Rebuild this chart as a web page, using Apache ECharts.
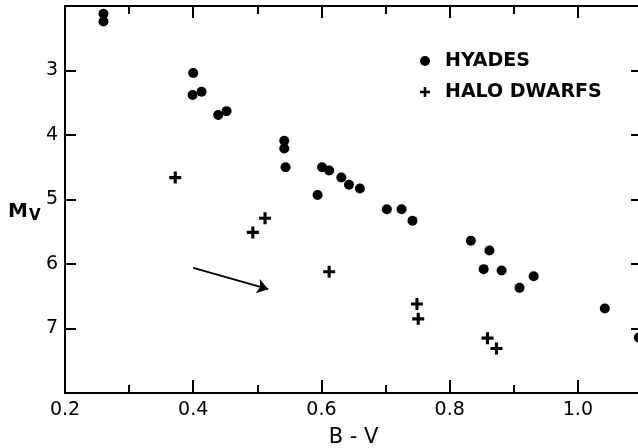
<!DOCTYPE html>
<html>
<head>
<meta charset="utf-8">
<script src="https://cdn.jsdelivr.net/npm/echarts@6/dist/echarts.min.js"></script>
<style>html,body{margin:0;padding:0;background:#fff;}#c{width:638px;height:448px;}</style>
</head>
<body>
<div id="c"></div>
<script>
var hyadesBV = [0.260,0.260,0.400,0.399,0.413,0.439,0.452,0.542,0.542,0.544,0.594,0.601,0.612,0.631,0.643,0.660,0.702,0.725,0.742,0.833,0.862,0.853,0.881,0.931,0.909,1.042,1.095];
var hyadesMv = [2.12,2.24,3.04,3.38,3.33,3.69,3.63,4.09,4.21,4.50,4.93,4.50,4.55,4.66,4.77,4.83,5.15,5.15,5.33,5.64,5.79,6.08,6.10,6.19,6.37,6.69,7.14];
var haloBV = [0.372,0.512,0.493,0.612,0.749,0.751,0.859,0.873];
var haloMv = [4.66,5.29,5.51,6.12,6.62,6.85,7.15,7.31];
var arrowStart = [0.400, 6.06];
var arrowEnd = [0.517, 6.39];
var xTickLabels = ['0.2','0.4','0.6','0.8','1.0'];
var yTickLabels = ['3','4','5','6','7'];
var seriesNames = ['HYADES','HALO DWARFS'];

var PLUS = 'path://M3.7,0H6.3V3.7H10V6.3H6.3V10H3.7V6.3H0V3.7H3.7Z';
var FONT = 'DejaVu Sans';
var black = '#000';

function zip(a, b){ return a.map(function(v,i){ return [v, b[i]]; }); }

function xAx(pos, interval, len, labels){
  return {
    type:'value', position:pos, min:0.2, max:1.1, interval:interval,
    axisLine:{show:true, onZero:false, lineStyle:{color:black, width:2}},
    axisTick:{show:true, inside:true, length:len, lineStyle:{color:black, width:2}},
    axisLabel:{show:labels, margin:8, color:black, fontFamily:FONT, fontSize:19,
      formatter:function(v){ var s=v.toFixed(1); return xTickLabels.indexOf(s)>=0 ? s : ''; }},
    splitLine:{show:false},
    name: (labels && pos==='bottom') ? 'B - V' : '',
    nameLocation:'middle', nameGap:34,
    nameTextStyle:{color:black, fontFamily:FONT, fontSize:21}
  };
}
function yAx(pos, labels){
  return {
    type:'value', position:pos, min:2, max:8, interval:1, inverse:true,
    axisLine:{show:true, onZero:false, lineStyle:{color:black, width:2}},
    axisTick:{show:true, inside:true, length:11, lineStyle:{color:black, width:2}},
    axisLabel:{show:labels, margin:7, color:black, fontFamily:FONT, fontSize:19,
      formatter:function(v){ var s=String(Math.round(v)); return yTickLabels.indexOf(s)>=0 ? s : ''; }},
    splitLine:{show:false}
  };
}

var chart = echarts.init(document.getElementById('c'), null, {renderer:'canvas'});
chart.setOption({
  animation:false,
  backgroundColor:'#fff',
  grid:{left:65, top:6, width:577, height:387, containLabel:false, outerBoundsMode:'none'},
  xAxis:[
    xAx('bottom', 0.2, 13, true),
    xAx('bottom', 0.1, 8, false),
    xAx('top', 0.2, 12, false),
    xAx('top', 0.1, 8, false)
  ],
  yAxis:[ yAx('left', true), yAx('right', false) ],
  legend:{
    orient:'vertical', left:415, top:46, itemGap:11,
    itemWidth:30, itemHeight:10, symbolKeepAspect:true,
    itemStyle:{opacity:1},
    textStyle:{color:black, fontFamily:FONT, fontSize:19, fontWeight:'bold', lineHeight:20},
    data:[{name:seriesNames[0], icon:'circle'},{name:seriesNames[1], icon:PLUS}]
  },
  graphic:[{
    type:'text', left:8, top:202,
    style:{
      text:'{m|M}{v|V}',
      rich:{
        m:{fontFamily:FONT, fontSize:20, fontWeight:'bold', fill:black},
        v:{fontFamily:FONT, fontSize:15, fontWeight:'bold', fill:black, padding:[9,0,0,1]}
      }
    }
  }],
  series:[
    {
      name:seriesNames[0], type:'scatter', xAxisIndex:0, yAxisIndex:0,
      symbol:'circle', symbolSize:10, itemStyle:{color:black, opacity:1},
      data:zip(hyadesBV, hyadesMv),
      markLine:{
        silent:true, symbol:['none','arrow'], symbolSize:11,
        lineStyle:{color:black, width:2, type:'solid', opacity:1},
        itemStyle:{color:black},
        label:{show:false},
        data:[[{coord:arrowStart},{coord:arrowEnd}]]
      }
    },
    {
      name:seriesNames[1], type:'scatter', xAxisIndex:0, yAxisIndex:0,
      symbol:PLUS, symbolSize:12, itemStyle:{color:black, opacity:1},
      data:zip(haloBV, haloMv)
    }
  ]
});
</script>
</body>
</html>
